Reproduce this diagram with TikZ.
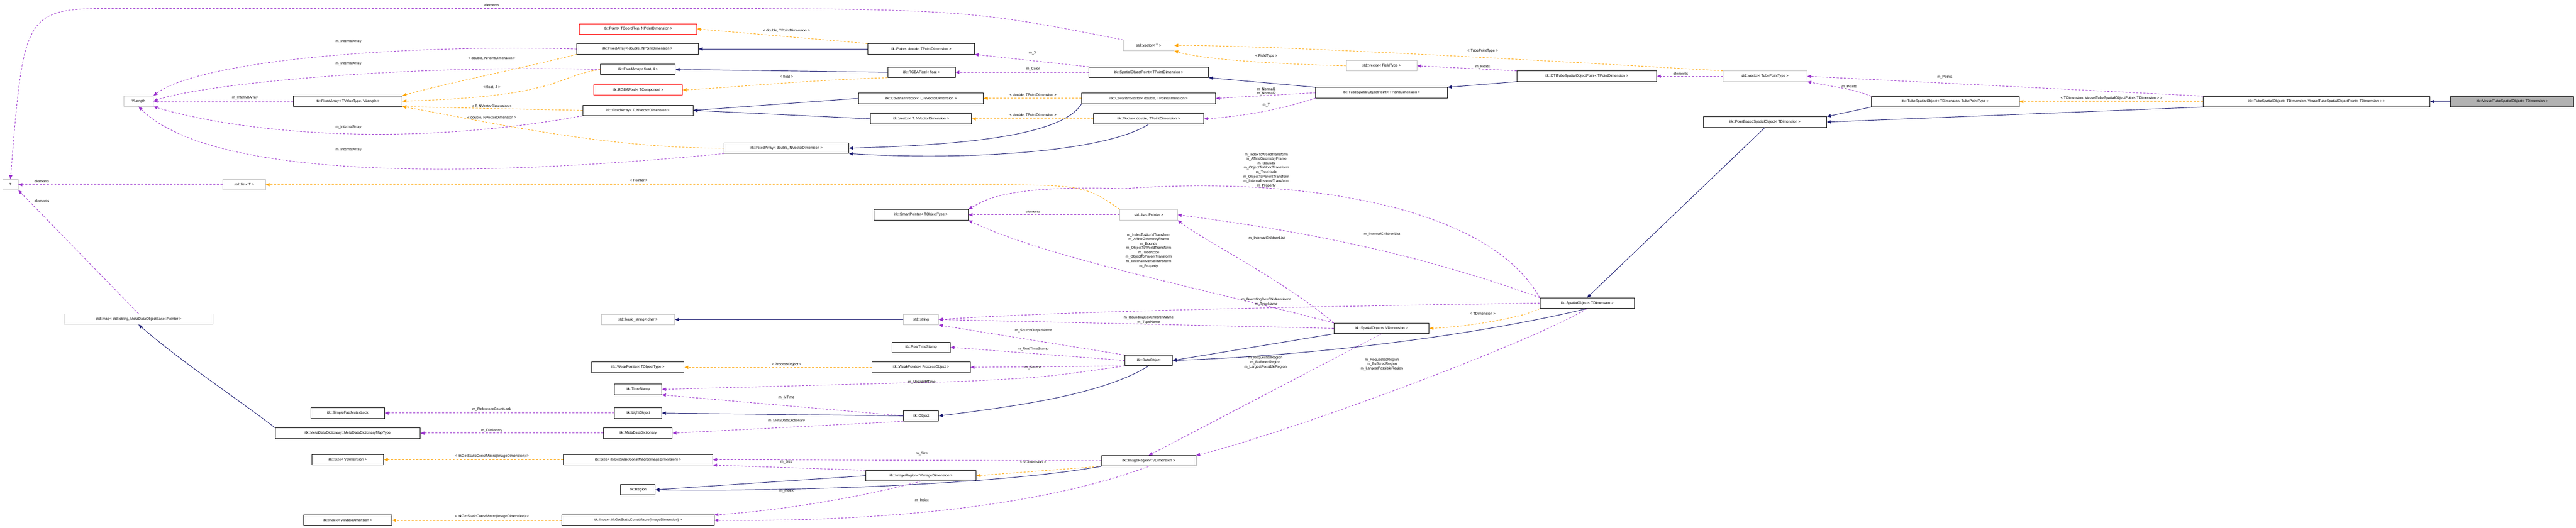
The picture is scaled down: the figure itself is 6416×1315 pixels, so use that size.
\documentclass[tikz,border=0pt]{standalone}
\usepackage{fontspec}
\setmainfont{Liberation Sans}
\usetikzlibrary{arrows.meta}
\definecolor{inhcol}{RGB}{25,25,112}
\definecolor{usecol}{RGB}{154,50,205}
\definecolor{tplcol}{RGB}{255,165,0}
\tikzset{
  cls/.style={draw=black, line width=1.2pt, fill=white, inner sep=2pt, minimum height=26pt, font=\fontsize{9}{10}\selectfont},
  ext/.style={cls, draw=black!25},
  redcls/.style={cls, draw=red},
  cur/.style={cls, fill=black!30},
  inh/.style={-{Triangle[length=10pt,width=8pt]}, draw=inhcol, line width=1.2pt},
  use/.style={-{Triangle[length=10pt,width=8pt]}, draw=usecol, line width=1.2pt, dash pattern=on 5pt off 4pt},
  tpl/.style={-{Triangle[length=10pt,width=8pt]}, draw=tplcol, line width=1.2pt, dash pattern=on 5pt off 4pt},
  lbl/.style={font=\fontsize{9}{11}\selectfont, align=center, inner sep=1pt}
}
\begin{document}
\begin{tikzpicture}[x=1pt, y=-1pt]
\useasboundingbox (0,0) rectangle (6416,1315);
% classes, upper part
\node[ext, minimum width=38pt] at (26,460) (T) {T};
\node[ext, minimum width=73pt] at (345,252) (vlen) {VLength};
\node[cls, minimum width=271pt] at (866,252) (fatv) {itk::FixedArray< TValueType, VLength >};
\node[redcls, minimum width=292pt] at (1589,72) (ptgen) {itk::Point< TCoordRep, NPointDimension >};
\node[cls, minimum width=303pt] at (1588,122) (fadnp) {itk::FixedArray< double, NPointDimension >};
\node[cls, minimum width=186pt] at (1589,173) (faf4) {itk::FixedArray< float, 4 >};
\node[redcls, minimum width=221pt] at (1589,224) (rgbagen) {itk::RGBAPixel< TComponent >};
\node[cls, minimum width=275pt] at (1589,275) (fatnv) {itk::FixedArray< T, NVectorDimension >};
\node[cls, minimum width=310pt] at (1959,369) (fadnv) {itk::FixedArray< double, NVectorDimension >};
\node[cls, minimum width=266pt] at (2294,122) (ptd) {itk::Point< double, TPointDimension >};
\node[cls, minimum width=168pt] at (2295,180) (rgbaf) {itk::RGBAPixel< float >};
\node[cls, minimum width=311pt] at (2294,245) (cvtnv) {itk::CovariantVector< T, NVectorDimension >};
\node[cls, minimum width=252pt] at (2294,296) (vtnv) {itk::Vector< T, NVectorDimension >};
\node[ext, minimum width=126pt] at (2861,113) (vecT) {std::vector< T >};
\node[cls, minimum width=298pt] at (2861,180) (sop) {itk::SpatialObjectPoint< TPointDimension >};
\node[cls, minimum width=333pt] at (2861,245) (cvd) {itk::CovariantVector< double, TPointDimension >};
\node[cls, minimum width=274pt] at (2861,296) (vd) {itk::Vector< double, TPointDimension >};
\node[ext, minimum width=176pt] at (3441,164) (vecft) {std::vector< FieldType >};
\node[cls, minimum width=328pt] at (3441,231) (tsop) {itk::TubeSpatialObjectPoint< TPointDimension >};
\node[cls, minimum width=348pt] at (3952,190) (dti) {itk::DTITubeSpatialObjectPoint< TPointDimension >};
\node[ext, minimum width=209pt] at (4396,190) (vectp) {std::vector< TubePointType >};
\node[cls, minimum width=307pt] at (4396,304) (pbso) {itk::PointBasedSpatialObject< TDimension >};
\node[cls, minimum width=368pt] at (4845,253) (tso) {itk::TubeSpatialObject< TDimension, TubePointType >};
\node[cls, minimum width=564pt] at (5770,253) (tsov) {itk::TubeSpatialObject< TDimension, VesselTubeSpatialObjectPoint< TDimension > >};
\node[cur, minimum width=307pt] at (6257,253) (vtso) {itk::VesselTubeSpatialObject< TDimension >};
% classes, lower part
\node[ext, minimum width=106pt] at (608,460) (listT) {std::list< T >};
\node[ext, minimum width=371pt] at (345,795) (map) {std::map< std::string, MetaDataObjectBase::Pointer >};
\node[cls, minimum width=183pt] at (866,1029) (mutex) {itk::SimpleFastMutexLock};
\node[cls, minimum width=361pt] at (866,1079) (mapty) {itk::MetaDataDictionary::MetaDataDictionaryMapType};
\node[cls, minimum width=178pt] at (866,1145) (sizeV) {itk::Size< VDimension >};
\node[cls, minimum width=220pt] at (866,1296) (indexV) {itk::Index< VIndexDimension >};
\node[cls, minimum width=235pt] at (2294,535) (smart) {itk::SmartPointer< TObjectType >};
\node[ext, minimum width=183pt] at (1589,796) (bstr) {std::basic\_string< char >};
\node[ext, minimum width=87pt] at (2294,796) (str) {std::string};
\node[cls, minimum width=145pt] at (2294,865) (rts) {itk::RealTimeStamp};
\node[cls, minimum width=230pt] at (1589,915) (wpT) {itk::WeakPointer< TObjectType >};
\node[cls, minimum width=245pt] at (2294,915) (wpP) {itk::WeakPointer< ProcessObject >};
\node[cls, minimum width=118pt] at (1589,970) (ts) {itk::TimeStamp};
\node[cls, minimum width=118pt] at (1589,1029) (lobj) {itk::LightObject};
\node[cls, minimum width=87pt] at (2294,1036) (obj) {itk::Object};
\node[cls, minimum width=171pt] at (1589,1079) (mdd) {itk::MetaDataDictionary};
\node[cls, minimum width=372pt] at (1589,1145) (sizeI) {itk::Size< itkGetStaticConstMacro(ImageDimension) >};
\node[cls, minimum width=275pt] at (2294,1185) (irI) {itk::ImageRegion< VImageDimension >};
\node[cls, minimum width=86pt] at (1589,1220) (reg) {itk::Region};
\node[cls, minimum width=379pt] at (1589,1296) (indexI) {itk::Index< itkGetStaticConstMacro(ImageDimension) >};
\node[ext, minimum width=143pt] at (2861,535) (listP) {std::list< Pointer >};
\node[cls, minimum width=237pt] at (3441,818) (soV) {itk::SpatialObject< VDimension >};
\node[cls, minimum width=118pt] at (2861,898) (dobj) {itk::DataObject};
\node[cls, minimum width=235pt] at (2861,1148) (irV) {itk::ImageRegion< VDimension >};
\node[cls, minimum width=235pt] at (3953,755) (soT) {itk::SpatialObject< TDimension >};
% connectors, upper part
\draw[use] (vecT.north west) .. controls (2400,21) .. (1500,21) -- (300,21) .. controls (60,21) .. (T.north);
\draw[use] (fadnp.west) .. controls (1000,110) and (500,150) .. (vlen.north east);
\draw[use] (faf4.west) .. controls (1000,160) and (500,210) .. (vlen.east);
\draw[use] (fatv.west) -- (vlen.east);
\draw[use] (fatnv.south west) .. controls (1000,370) and (600,330) .. (vlen.south east);
\draw[use] (fadnv.south west) .. controls (1000,460) and (500,420) .. (vlen.south);
\draw[tpl] (fadnp.south west) .. controls (1300,170) and (1100,210) .. (fatv.north east);
\draw[tpl] (faf4.west) .. controls (1380,190) and (1400,240) .. (fatv.east);
\draw[tpl] (fatnv.west) -- (fatv.south east);
\draw[tpl] (fadnv.west) .. controls (1500,370) and (1200,300) .. (fatv.south east);
\draw[tpl] (ptd.north west) -- (ptgen.east);
\draw[inh] (ptd.west) -- (fadnp.east);
\draw[inh] (rgbaf.west) -- (faf4.east);
\draw[tpl] (rgbaf.south west) .. controls (2000,200) and (1800,220) .. (rgbagen.east);
\draw[inh] (cvtnv.west) -- (fatnv.east);
\draw[inh] (vtnv.west) -- (fatnv.east);
\draw[inh] (cvd.south west) .. controls (2650,330) and (2450,360) .. (fadnv.east);
\draw[inh] (vd.south) .. controls (2750,380) and (2400,400) .. (fadnv.south east);
\draw[tpl] (cvd.west) -- (cvtnv.east);
\draw[tpl] (vd.west) -- (vtnv.east);
\draw[use] (sop.north west) -- (ptd.south east);
\draw[use] (sop.west) -- (rgbaf.east);
\draw[inh] (tsop.north west) -- (sop.south east);
\draw[use] (tsop.west) -- (cvd.east);
\draw[use] (tsop.south west) .. controls (3200,270) and (3100,290) .. (vd.east);
\draw[tpl] (vecft.west) .. controls (3200,160) and (3000,150) .. (vecT.south east);
\draw[use] (dti.north west) -- (vecft.east);
\draw[inh] (dti.south west) -- (tsop.north east);
\draw[tpl] (vectp.north west) .. controls (4000,160) and (3200,113) .. (vecT.east);
\draw[use] (vectp.west) -- (dti.east);
\draw[use] (tso.north west) .. controls (4620,225) .. (vectp.south east);
\draw[use] (tsov.north west) -- (vectp.east);
\draw[inh] (tso.south west) -- (pbso.north east);
\draw[inh] (tsov.south west) -- (pbso.east);
\draw[tpl] (tsov.west) -- (tso.east);
\draw[inh] (vtso.west) -- (tsov.east);
\draw[inh] (pbso.south) -- (soT.north);
% connectors, lower part
\draw[use] (listT.west) -- (T.east);
\draw[use] (map.north) -- (T.south east);
\draw[tpl] (listP.north west) .. controls (2700,460) .. (2400,460) -- (listT.east);
\draw[use] (listP.west) -- (smart.east);
\draw[use] (soT.north west) .. controls (3700,500) and (3200,440) .. (2800,470) .. controls (2500,460) and (2450,500) .. (smart.north east);
\draw[use] (soV.north west) .. controls (3000,720) and (2600,640) .. (smart.south east);
\draw[use] (soT.north west) .. controls (3500,620) and (3200,570) .. (listP.east);
\draw[use] (soV.north west) .. controls (3200,700) and (3000,600) .. (listP.south east);
\draw[use] (soT.west) .. controls (3400,762) and (2700,772) .. (str.east);
\draw[use] (soV.west) -- (str.east);
\draw[tpl] (soT.south west) .. controls (3800,790) and (3650,815) .. (soV.east);
\draw[inh] (soV.south west) -- (dobj.east);
\draw[inh] (soT.south) .. controls (3700,830) and (3300,885) .. (dobj.east);
\draw[use] (soV.south) -- (irV.north);
\draw[use] (soT.south) .. controls (3800,860) and (3200,1080) .. (irV.north east);
\draw[use] (dobj.north west) -- (str.south east);
\draw[use] (dobj.west) -- (rts.east);
\draw[use] (dobj.south west) -- (wpP.east);
\draw[use] (dobj.south west) .. controls (2600,940) .. (2400,950) -- (ts.east);
\draw[inh] (dobj.south) .. controls (2750,980) and (2550,1010) .. (obj.east);
\draw[inh] (str.west) -- (bstr.east);
\draw[tpl] (wpP.west) -- (wpT.east);
\draw[use] (obj.west) -- (ts.south east);
\draw[inh] (obj.west) -- (lobj.east);
\draw[use] (obj.south west) -- (mdd.east);
\draw[use] (lobj.west) -- (mutex.east);
\draw[use] (mdd.west) -- (mapty.east);
\draw[inh] (mapty.north west) .. controls (600,1000) and (450,900) .. (map.south);
\draw[tpl] (sizeI.west) -- (sizeV.east);
\draw[tpl] (indexI.west) -- (indexV.east);
\draw[use] (irI.north west) -- (sizeI.south east);
\draw[inh] (irI.west) -- (reg.east);
\draw[use] (irI.south) .. controls (2100,1250) and (1900,1275) .. (indexI.north east);
\draw[use] (irV.west) -- (sizeI.east);
\draw[tpl] (irV.south west) -- (irI.east);
\draw[inh] (irV.south west) .. controls (2500,1205) and (2000,1225) .. (reg.east);
\draw[use] (irV.south) .. controls (2600,1260) and (2200,1300) .. (indexI.east);
% labels
\node[lbl] at (1225,13) {elements};
\node[lbl] at (868,104) {m\_InternalArray};
\node[lbl] at (868,159) {m\_InternalArray};
\node[lbl] at (610,244) {m\_InternalArray};
\node[lbl] at (868,316) {m\_InternalArray};
\node[lbl] at (868,373) {m\_InternalArray};
\node[lbl] at (1959,76) {< double, TPointDimension >};
\node[lbl] at (1225,145) {< double, NPointDimension >};
\node[lbl] at (1225,218) {< float, 4 >};
\node[lbl] at (1959,191) {< float >};
\node[lbl] at (1225,265) {< T, NVectorDimension >};
\node[lbl] at (1225,293) {< double, NVectorDimension >};
\node[lbl] at (2572,132) {m\_X};
\node[lbl] at (2573,172) {m\_Color};
\node[lbl] at (2573,236) {< double, TPointDimension >};
\node[lbl] at (2573,287) {< double, TPointDimension >};
\node[lbl] at (3154,140) {< FieldType >};
\node[lbl] at (3154,228) {m\_Normal1\\m\_Normal2};
\node[lbl] at (3154,261) {m\_T};
\node[lbl] at (3693,127) {< TubePointType >};
\node[lbl] at (3693,166) {m\_Fields};
\node[lbl] at (4186,183) {elements};
\node[lbl] at (4844,192) {m\_Points};
\node[lbl] at (4606,217) {m\_Points};
\node[lbl] at (5259,245) {< TDimension, VesselTubeSpatialObjectPoint< TDimension > >};
\node[lbl] at (104,452) {elements};
\node[lbl] at (104,501) {elements};
\node[lbl] at (1591,449) {< Pointer >};
\node[lbl] at (2573,527) {elements};
\node[lbl] at (3154,424) {m\_IndexToWorldTransform\\m\_AffineGeometryFrame\\m\_Bounds\\m\_ObjectToWorldTransform\\m\_TreeNode\\m\_ObjectToParentTransform\\m\_InternalInverseTransform\\m\_Property};
\node[lbl] at (2861,624) {m\_IndexToWorldTransform\\m\_AffineGeometryFrame\\m\_Bounds\\m\_ObjectToWorldTransform\\m\_TreeNode\\m\_ObjectToParentTransform\\m\_InternalInverseTransform\\m\_Property};
\node[lbl] at (3442,584) {m\_InternalChildrenList};
\node[lbl] at (3155,594) {m\_InternalChildrenList};
\node[lbl] at (3154,752) {m\_BoundingBoxChildrenName\\m\_TypeName};
\node[lbl] at (2861,797) {m\_BoundingBoxChildrenName\\m\_TypeName};
\node[lbl] at (3693,781) {< TDimension >};
\node[lbl] at (2574,823) {m\_SourceOutputName};
\node[lbl] at (2573,869) {m\_RealTimeStamp};
\node[lbl] at (2573,916) {m\_Source};
\node[lbl] at (3152,903) {m\_RequestedRegion\\m\_BufferedRegion\\m\_LargestPossibleRegion};
\node[lbl] at (3442,907) {m\_RequestedRegion\\m\_BufferedRegion\\m\_LargestPossibleRegion};
\node[lbl] at (1959,908) {< ProcessObject >};
\node[lbl] at (2296,952) {m\_UpdateMTime};
\node[lbl] at (1959,990) {m\_MTime};
\node[lbl] at (1959,1048) {m\_MetaDataDictionary};
\node[lbl] at (1225,1020) {m\_ReferenceCountLock};
\node[lbl] at (1225,1072) {m\_Dictionary};
\node[lbl] at (1225,1136) {< itkGetStaticConstMacro(ImageDimension) >};
\node[lbl] at (1225,1287) {< itkGetStaticConstMacro(ImageDimension) >};
\node[lbl] at (2296,1130) {m\_Size};
\node[lbl] at (1959,1150) {m\_Size};
\node[lbl] at (1959,1222) {m\_Index};
\node[lbl] at (2296,1247) {m\_Index};
\node[lbl] at (2573,1151) {< VDimension >};
\end{tikzpicture}
\end{document}
